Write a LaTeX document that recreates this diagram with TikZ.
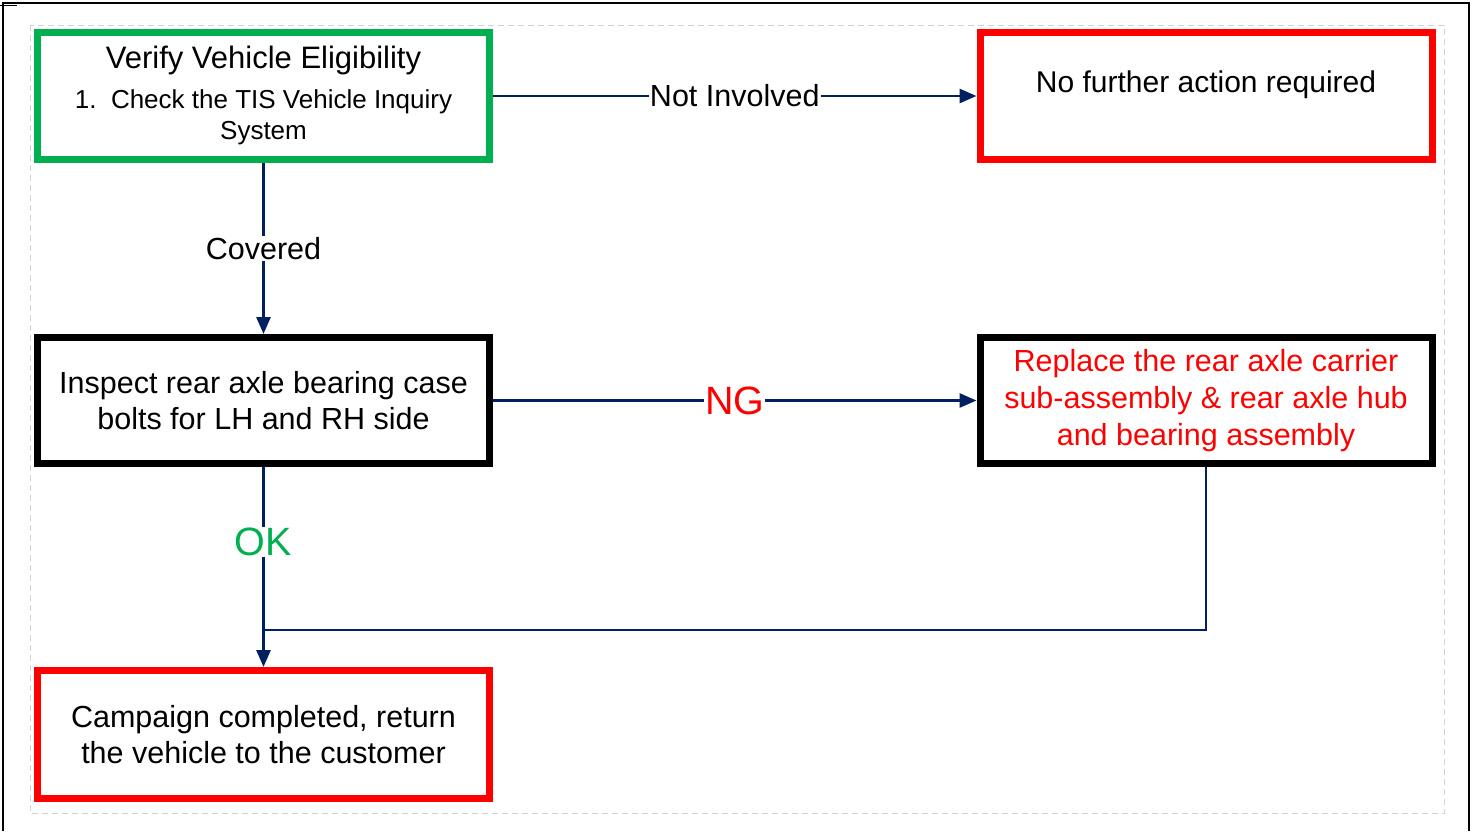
\documentclass[tikz,border=0pt]{standalone}
\usepackage{fontspec}
\setmainfont{Liberation Sans}
\usetikzlibrary{arrows.meta}
\definecolor{navy}{HTML}{002060}
\definecolor{okgreen}{HTML}{00B050}
\definecolor{ngred}{HTML}{FF0000}
\begin{document}
\begin{tikzpicture}[x=1pt,y=-1pt,
  box/.style={draw,line width=7pt,minimum width=452pt,minimum height=127pt,
    align=center,inner sep=0pt,fill=white},
  greenbox/.style={box,draw=okgreen},
  redbox/.style={box,draw=ngred},
  blackbox/.style={box,draw=black},
  conn/.style={navy,line width=2.8pt},
  arr/.style={conn,-{Triangle[length=17pt,width=14pt]}},
  lbl/.style={fill=white,text=black,inner sep=1pt,font=\fontsize{30.5}{34}\selectfont},
  biglbl/.style={lbl,font=\fontsize{39.5}{42}\selectfont},
]
\useasboundingbox (0,0) rectangle (1474,831);
\fill[white] (0,0) rectangle (1474,831);
% outer frame
\draw[line width=2pt] (3,831) -- (3,3) -- (1469,3) -- (1469,831);
\draw[line width=1pt] (0,5) -- (17,5);
% dashed inner frame
\draw[gray!35,line width=1pt,dash pattern=on 6pt off 4pt] (30,25) rectangle (1444,813);

\node[greenbox] (v) at (263.5,96) {};
\node at (263.5,60) {\fontsize{31}{34}\selectfont Verify Vehicle Eligibility};
\node[align=center,font=\fontsize{26}{31}\selectfont] at (263.5,117) {1.\ \ Check the TIS Vehicle Inquiry\\System};

\node[redbox] (n) at (1206,96) {};
\node at (1206,85) {\fontsize{30}{34}\selectfont No further action required};

\node[blackbox,minimum height=126pt,font=\fontsize{30.5}{36}\selectfont] (i) at (263.5,400.5) {Inspect rear axle bearing case\\bolts for LH and RH side};
\node[blackbox,minimum height=126pt,text=ngred,font=\fontsize{30.5}{37}\selectfont] (r) at (1206,400.5) {Replace the rear axle carrier\\sub-assembly \& rear axle hub\\and bearing assembly};

\node[redbox,minimum height=128pt,font=\fontsize{30.5}{35.5}\selectfont] (c) at (263.5,734.5) {Campaign completed, return\\the vehicle to the customer};

\coordinate (j) at (263.5,630);

\draw[arr] (v.east |- 0,96) -- node[lbl]{Not Involved} (n.west |- 0,96);
\draw[arr] (v) -- node[lbl]{Covered} (i);
\draw[arr] (i.east |- 0,400.5) -- node[biglbl,text=ngred]{NG} (r.west |- 0,400.5);
\draw[conn] (r.south) |- (j);
\draw[arr] (i) -- node[biglbl,text=okgreen,pos=0.46]{OK} (j) -- (c);
\end{tikzpicture}
\end{document}
